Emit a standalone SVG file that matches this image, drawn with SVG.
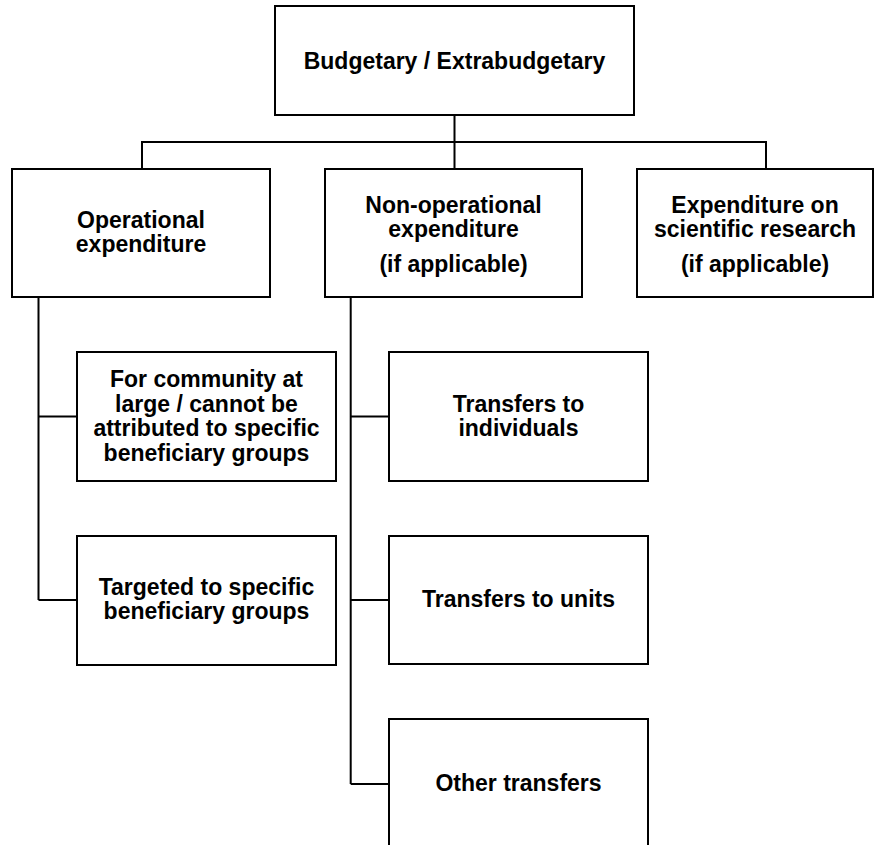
<svg xmlns="http://www.w3.org/2000/svg" width="884" height="845" viewBox="0 0 884 845">
<style>
rect{fill:#fff;stroke:#000;stroke-width:2}
.c path{fill:none;stroke:#000;stroke-width:2}
text{font-family:"Liberation Sans",Arial,sans-serif;font-weight:bold;font-size:23px;text-anchor:middle;fill:#000}
</style>
<rect width="884" height="845" style="stroke:none"/>
<g class="c" id="connectors">
<path d="M454.5 115V142M142 169V142H766V169M454.5 142V169"/>
<path d="M38.5 298V600M38.5 416.5H77M38.5 600H77"/>
<path d="M350.7 298V784M350.7 416.5H389M350.7 600H389M350.7 784H389"/>
</g>
<g id="n-top"><rect x="275" y="6" width="359" height="109"/><text x="454.5" y="69">Budgetary / Extrabudgetary</text></g>
<g id="n-op"><rect x="12" y="169" width="258" height="128"/><text x="141" y="228">Operational</text><text x="141" y="252">expenditure</text></g>
<g id="n-nonop"><rect x="325" y="169" width="257" height="128"/><text x="453.5" y="213">Non-operational</text><text x="453.5" y="237">expenditure</text><text x="453.5" y="272">(if applicable)</text></g>
<g id="n-sci"><rect x="637" y="169" width="236" height="128"/><text x="755" y="213">Expenditure on</text><text x="755" y="237">scientific research</text><text x="755" y="272">(if applicable)</text></g>
<g id="n-community"><rect x="77" y="352" width="259" height="129"/><text x="206.5" y="387">For community at</text><text x="206.5" y="411.5">large / cannot be</text><text x="206.5" y="436">attributed to specific</text><text x="206.5" y="460.5">beneficiary groups</text></g>
<g id="n-targeted"><rect x="77" y="536" width="259" height="129"/><text x="206.5" y="595">Targeted to specific</text><text x="206.5" y="619">beneficiary groups</text></g>
<g id="n-indiv"><rect x="389" y="352" width="259" height="129"/><text x="518.5" y="412">Transfers to</text><text x="518.5" y="436">individuals</text></g>
<g id="n-units"><rect x="389" y="536" width="259" height="128"/><text x="518.5" y="607">Transfers to units</text></g>
<g id="n-other"><rect x="389" y="719" width="259" height="140"/><text x="518.5" y="791">Other transfers</text></g>
</svg>
